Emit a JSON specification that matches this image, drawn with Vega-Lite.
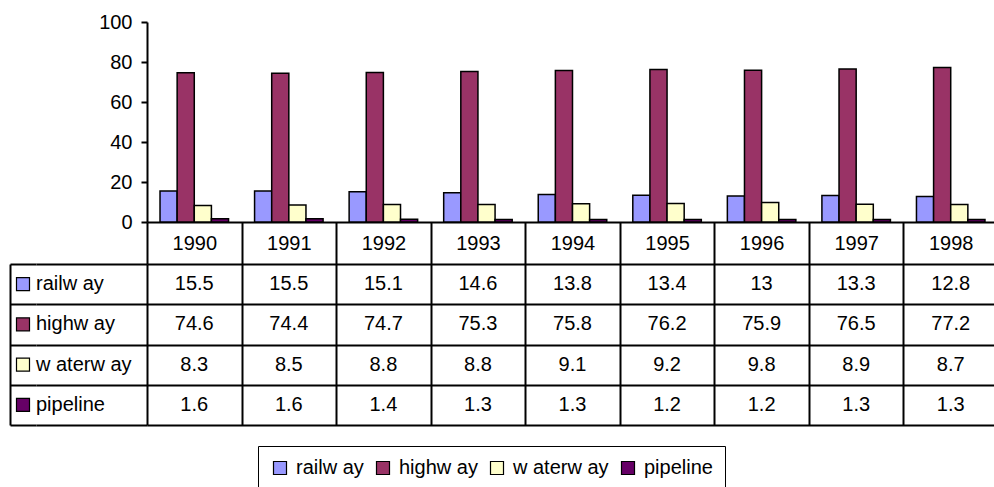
{
  "$schema": "https://vega.github.io/schema/vega-lite/v6.json",
  "padding": {"left": 10, "top": 12, "right": 0, "bottom": 0},
  "background": "white",
  "config": {
    "font": "Liberation Sans",
    "view": {"stroke": null},
    "axis": {"labelFont": "Liberation Sans", "labelFontSize": 20, "labelColor": "black"},
    "text": {"font": "Liberation Sans", "color": "black", "fontSize": 20}
  },
  "datasets": {
    "t": [
      {"year": "1990", "mode": "railw ay", "value": 15.5},
      {"year": "1991", "mode": "railw ay", "value": 15.5},
      {"year": "1992", "mode": "railw ay", "value": 15.1},
      {"year": "1993", "mode": "railw ay", "value": 14.6},
      {"year": "1994", "mode": "railw ay", "value": 13.8},
      {"year": "1995", "mode": "railw ay", "value": 13.4},
      {"year": "1996", "mode": "railw ay", "value": 13},
      {"year": "1997", "mode": "railw ay", "value": 13.3},
      {"year": "1998", "mode": "railw ay", "value": 12.8},
      {"year": "1990", "mode": "highw ay", "value": 74.6},
      {"year": "1991", "mode": "highw ay", "value": 74.4},
      {"year": "1992", "mode": "highw ay", "value": 74.7},
      {"year": "1993", "mode": "highw ay", "value": 75.3},
      {"year": "1994", "mode": "highw ay", "value": 75.8},
      {"year": "1995", "mode": "highw ay", "value": 76.2},
      {"year": "1996", "mode": "highw ay", "value": 75.9},
      {"year": "1997", "mode": "highw ay", "value": 76.5},
      {"year": "1998", "mode": "highw ay", "value": 77.2},
      {"year": "1990", "mode": "w aterw ay", "value": 8.3},
      {"year": "1991", "mode": "w aterw ay", "value": 8.5},
      {"year": "1992", "mode": "w aterw ay", "value": 8.8},
      {"year": "1993", "mode": "w aterw ay", "value": 8.8},
      {"year": "1994", "mode": "w aterw ay", "value": 9.1},
      {"year": "1995", "mode": "w aterw ay", "value": 9.2},
      {"year": "1996", "mode": "w aterw ay", "value": 9.8},
      {"year": "1997", "mode": "w aterw ay", "value": 8.9},
      {"year": "1998", "mode": "w aterw ay", "value": 8.7},
      {"year": "1990", "mode": "pipeline", "value": 1.6},
      {"year": "1991", "mode": "pipeline", "value": 1.6},
      {"year": "1992", "mode": "pipeline", "value": 1.4},
      {"year": "1993", "mode": "pipeline", "value": 1.3},
      {"year": "1994", "mode": "pipeline", "value": 1.3},
      {"year": "1995", "mode": "pipeline", "value": 1.2},
      {"year": "1996", "mode": "pipeline", "value": 1.2},
      {"year": "1997", "mode": "pipeline", "value": 1.3},
      {"year": "1998", "mode": "pipeline", "value": 1.3}
    ]
  },
  "data": {"name": "t"},
  "bounds": "flush",
  "columns": 3,
  "spacing": {"row": 42, "column": 0},
  "concat": [
    {
      "width": 26,
      "height": 200,
      "transform": [{"aggregate": [{"op": "count", "as": "n"}], "groupby": ["mode"]}],
      "mark": {"type": "text", "text": ""},
      "encoding": {}
    },
    {
      "width": 111,
      "height": 200,
      "transform": [{"aggregate": [{"op": "count", "as": "n"}], "groupby": ["mode"]}],
      "mark": {"type": "text", "text": ""},
      "encoding": {}
    },
    {
      "width": 851,
      "height": 200,
      "mark": {"type": "bar", "stroke": "black", "strokeWidth": 1.5},
      "encoding": {
        "x": {
          "field": "year", "type": "nominal",
          "scale": {"paddingInner": 0, "paddingOuter": 0},
          "axis": {
            "title": null, "labelAngle": 0,
            "domainColor": "black", "domainWidth": 2,
            "tickColor": "black", "tickWidth": 2, "tickSize": 42, "tickBand": "extent",
            "labelPadding": -21, "labelBaseline": "middle"
          }
        },
        "xOffset": {
          "field": "mode", "type": "nominal",
          "sort": ["railw ay", "highw ay", "w aterw ay", "pipeline"],
          "scale": {"paddingOuter": 0.76, "paddingInner": 0}
        },
        "y": {
          "field": "value", "type": "quantitative",
          "scale": {"domain": [0, 100], "nice": false},
          "axis": {
            "title": null, "values": [0, 20, 40, 60, 80, 100], "grid": false,
            "domainColor": "black", "domainWidth": 2,
            "tickColor": "black", "tickWidth": 2, "tickSize": 6, "labelPadding": 9
          }
        },
        "color": {
          "field": "mode", "type": "nominal",
          "sort": ["railw ay", "highw ay", "w aterw ay", "pipeline"],
          "scale": {
            "domain": ["railw ay", "highw ay", "w aterw ay", "pipeline"],
            "range": ["#9999FF", "#993366", "#FFFFCC", "#660066"]
          },
          "legend": {
            "orient": "none", "legendX": 248, "legendY": 424,
            "direction": "horizontal", "title": null,
            "symbolType": "square", "symbolSize": 169,
            "symbolStrokeColor": "black", "symbolStrokeWidth": 1.2,
            "labelFontSize": 20, "labelFont": "Liberation Sans", "labelColor": "black",
            "labelOffset": 6, "columnPadding": 9, "padding": 12,
            "strokeColor": "black", "fillColor": "white"
          }
        }
      }
    },
    {
      "width": 26,
      "height": 161,
      "transform": [{"aggregate": [{"op": "count", "as": "n"}], "groupby": ["mode"]}],
      "mark": {"type": "point", "shape": "square", "filled": true, "size": 169, "stroke": "black", "strokeWidth": 1.2, "opacity": 1},
      "encoding": {
        "y": {
          "field": "mode", "type": "nominal",
          "sort": ["railw ay", "highw ay", "w aterw ay", "pipeline"],
          "scale": {"type": "band", "paddingInner": 0, "paddingOuter": 0},
          "axis": {
            "title": null, "labels": false, "ticks": false,
            "domain": true, "domainColor": "black", "domainWidth": 2,
            "grid": true, "gridColor": "black", "gridWidth": 2, "gridOpacity": 1, "tickBand": "extent"
          }
        },
        "color": {
          "field": "mode", "type": "nominal",
          "sort": ["railw ay", "highw ay", "w aterw ay", "pipeline"]
        }
      }
    },
    {
      "width": 111,
      "height": 161,
      "transform": [{"aggregate": [{"op": "count", "as": "n"}], "groupby": ["mode"]}],
      "mark": {"type": "text", "align": "left", "baseline": "middle", "fontSize": 20},
      "encoding": {
        "x": {"datum": 0, "type": "quantitative", "scale": {"domain": [0, 1]}, "axis": null},
        "y": {
          "field": "mode", "type": "nominal",
          "sort": ["railw ay", "highw ay", "w aterw ay", "pipeline"],
          "scale": {"type": "band", "paddingInner": 0, "paddingOuter": 0},
          "axis": {
            "title": null, "labels": false, "ticks": false, "domain": false,
            "grid": true, "gridColor": "black", "gridWidth": 2, "gridOpacity": 1, "tickBand": "extent"
          }
        },
        "text": {"field": "mode", "type": "nominal"}
      }
    },
    {
      "width": 851,
      "height": 161,
      "mark": {"type": "text", "baseline": "middle", "fontSize": 20},
      "encoding": {
        "x": {
          "field": "year", "type": "nominal",
          "scale": {"type": "band", "paddingInner": 0, "paddingOuter": 0},
          "axis": {
            "title": null, "labels": false, "ticks": false, "domain": false, "orient": "top",
            "grid": true, "gridColor": "black", "gridWidth": 2, "gridOpacity": 1, "tickBand": "extent"
          }
        },
        "y": {
          "field": "mode", "type": "nominal",
          "sort": ["railw ay", "highw ay", "w aterw ay", "pipeline"],
          "scale": {"type": "band", "paddingInner": 0, "paddingOuter": 0},
          "axis": {
            "title": null, "labels": false, "ticks": false, "domain": false,
            "grid": true, "gridColor": "black", "gridWidth": 2, "gridOpacity": 1, "tickBand": "extent"
          }
        },
        "text": {"field": "value", "type": "nominal"}
      }
    }
  ]
}
